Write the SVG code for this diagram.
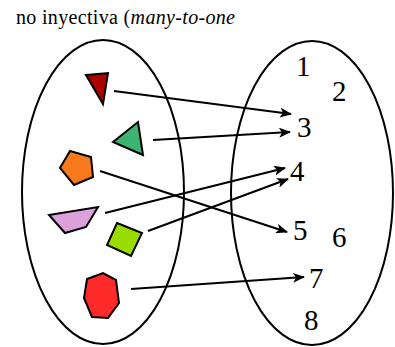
<svg xmlns="http://www.w3.org/2000/svg" width="395" height="347" viewBox="0 0 395 347">
<style>
.set{fill:none;stroke:#000;stroke-width:2}
.shape{stroke:#000;stroke-width:2;stroke-linejoin:miter}
.num{font-family:"Liberation Serif",serif;font-size:29px;fill:#000}
.title{font-family:"Liberation Serif",serif;font-size:20px;fill:#000}
.conn line{stroke:#000;stroke-width:2;marker-end:url(#ah)}
</style>
<defs>
<marker id="ah" viewBox="0 0 12 10" refX="11" refY="5" markerWidth="12" markerHeight="10" markerUnits="userSpaceOnUse" orient="auto">
<path d="M0,0 L12,5 L0,10 L3,5 Z" fill="#000"/>
</marker>
</defs>
<rect width="395" height="347" fill="#fff"/>
<text class="title" x="16" y="24" textLength="219" lengthAdjust="spacing">no inyectiva (<tspan font-style="italic">many-to-one</tspan></text>
<g id="setA"><ellipse class="set" cx="103" cy="192" rx="81" ry="152"/></g>
<g id="setB"><ellipse class="set" cx="312" cy="193" rx="81" ry="152"/></g>
<g id="tri-red"><polygon class="shape" fill="#aa0000" points="86,75 108,73 103,104"/></g>
<g id="tri-green"><polygon class="shape" fill="#3cb371" points="113,142 138,122 143,155"/></g>
<g id="pentagon"><polygon class="shape" fill="#f87a1c" points="70,151 91,157 93,177 74,185 60,168"/></g>
<g id="trapezoid"><polygon class="shape" fill="#dda0dd" points="49,215 98,207 86,227 65,233"/></g>
<g id="square"><polygon class="shape" fill="#99dd00" points="117,223 142,233 131,256 107,245"/></g>
<g id="heptagon"><polygon class="shape" fill="#ff2a2a" points="87,279 103,273 116,280 119,303 108,318 92,317 84,298"/></g>
<g id="n1"><text class="num" x="296" y="76">1</text></g>
<g id="n2"><text class="num" x="332" y="101">2</text></g>
<g id="n3"><text class="num" x="297" y="137">3</text></g>
<g id="n4"><text class="num" x="290" y="181">4</text></g>
<g id="n5"><text class="num" x="293" y="240">5</text></g>
<g id="n6"><text class="num" x="332" y="247">6</text></g>
<g id="n7"><text class="num" x="309" y="288">7</text></g>
<g id="n8"><text class="num" x="304" y="330">8</text></g>
<g id="connectors" class="conn">
<line x1="114" y1="91" x2="291" y2="114"/>
<line x1="153" y1="140" x2="290" y2="132"/>
<line x1="100" y1="171" x2="287" y2="232"/>
<line x1="105" y1="213" x2="285" y2="168"/>
<line x1="148" y1="231" x2="288" y2="179"/>
<line x1="131" y1="289" x2="304" y2="277"/>
</g>
</svg>
